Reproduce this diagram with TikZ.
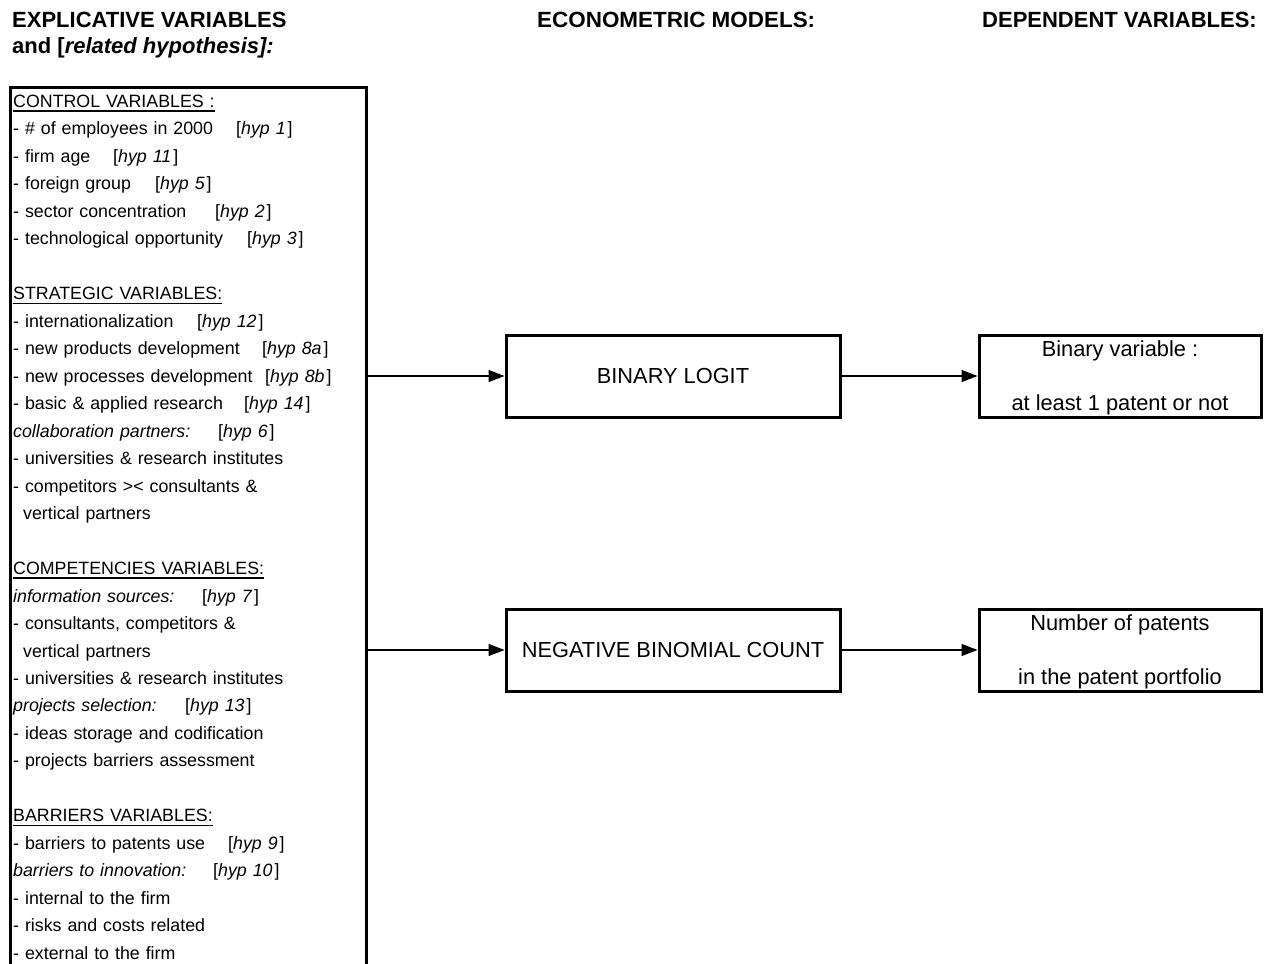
\documentclass[tikz,border=0pt]{standalone}
\usepackage{fontspec}
\setmainfont{Liberation Sans}
\usetikzlibrary{arrows.meta}
\newcommand\hy[1]{[\textit{hyp #1}\hspace{2pt}]}
\newcommand\lw[2]{\makebox[#1pt][l]{#2}}
\newcommand\hd[1]{\leavevmode\setbox0\hbox{#1}\rlap{\rule[-4.2pt]{\wd0}{1.3pt}}\box0}
\newcommand\up{\rule{0pt}{20.5pt}}
\begin{document}
\begin{tikzpicture}[x=1pt,y=-1pt,
  box/.style={draw,line width=3pt,inner sep=0pt,align=center,
    font=\fontsize{21.8pt}{27pt}\selectfont},
  hdr/.style={inner sep=0pt,anchor=base west,align=left,
    font=\bfseries\fontsize{22pt}{26pt}\selectfont},
  arr/.style={line width=1.3pt,-{Triangle[length=16pt,width=12pt]}}]
\useasboundingbox (0,0) rectangle (1272,964);
\clip (0,0) rectangle (1272,964);
\fill[white] (0,0) rectangle (1272,964);

% headers
\node[hdr] (h1) at (12,53.9) {EXPLICATIVE VARIABLES\\and [\textit{related hypothesis]:}};
\node[hdr] (h2) at (537,27.9) {\scalebox{1.02}[1]{ECONOMETRIC MODELS:}};
\node[hdr,anchor=base east] (h3) at (1257,27.9) {DEPENDENT VARIABLES:};

% left frame
\node[draw,line width=3pt,inner sep=0pt,minimum width=356pt,minimum height=920pt,
  anchor=north west] (frame) at (8.5,85.5) {};
\node[anchor=base west,inner sep=0pt,text width=350pt,align=left,
  font=\fontsize{17.8pt}{27.48pt}\selectfont] (vars) at (13,107.4) {%
\hd{CONTROL VARIABLES :}\\
\lw{223}{- \# of employees in 2000}\hy{1}\\
\lw{100}{- firm age}\hy{11}\\
\lw{142}{- foreign group}\hy{5}\\
\lw{202}{- sector concentration}\hy{2}\\
\lw{234}{- technological opportunity}\hy{3}\\
\mbox{}\\
\hd{STRATEGIC VARIABLES:}\\
\lw{184}{- internationalization}\hy{12}\\
\lw{249}{- new products development}\hy{8a}\\
\lw{252}{- new processes development}\hy{8b}\\
\lw{231}{- basic \& applied research}\hy{14}\\
\lw{205}{\textit{collaboration partners:}}\hy{6}\\
- universities \& research institutes\\
- competitors >< consultants \&\\
\hspace*{10pt}vertical partners\\
\mbox{}\\
\hd{COMPETENCIES VARIABLES:}\\
\lw{189}{\textit{information sources:}}\hy{7}\\
- consultants, competitors \&\\
\hspace*{10pt}vertical partners\\
- universities \& research institutes\\
\lw{172}{\textit{projects selection:}}\hy{13}\\
- ideas storage and codification\\
- projects barriers assessment\\
\mbox{}\\
\hd{BARRIERS VARIABLES:}\\
\lw{215}{- barriers to patents use}\hy{9}\\
\lw{200}{\textit{barriers to innovation:}}\hy{10}\\
- internal to the firm\\
- risks and costs related\\
- external to the firm};

% model boxes
\node[box,minimum width=334pt,minimum height=82pt] (blogit) at (673,376) {BINARY LOGIT};
\node[box,minimum width=334pt,minimum height=82pt] (negbin) at (673,650) {NEGATIVE BINOMIAL COUNT};

% dependent boxes
\node[box,minimum width=282pt,minimum height=82pt] (binvar) at (1120,376)
  {\up Binary variable :\\[27pt]at least 1 patent or not};
\node[box,minimum width=282pt,minimum height=82pt] (numpat) at (1120,650)
  {\up Number of patents\\[27pt]in the patent portfolio};

% connectors
\draw[arr] (frame.east |- blogit.west) -- (blogit.west);
\draw[arr] (blogit.east) -- (binvar.west);
\draw[arr] (frame.east |- negbin.west) -- (negbin.west);
\draw[arr] (negbin.east) -- (numpat.west);
\end{tikzpicture}
\end{document}
